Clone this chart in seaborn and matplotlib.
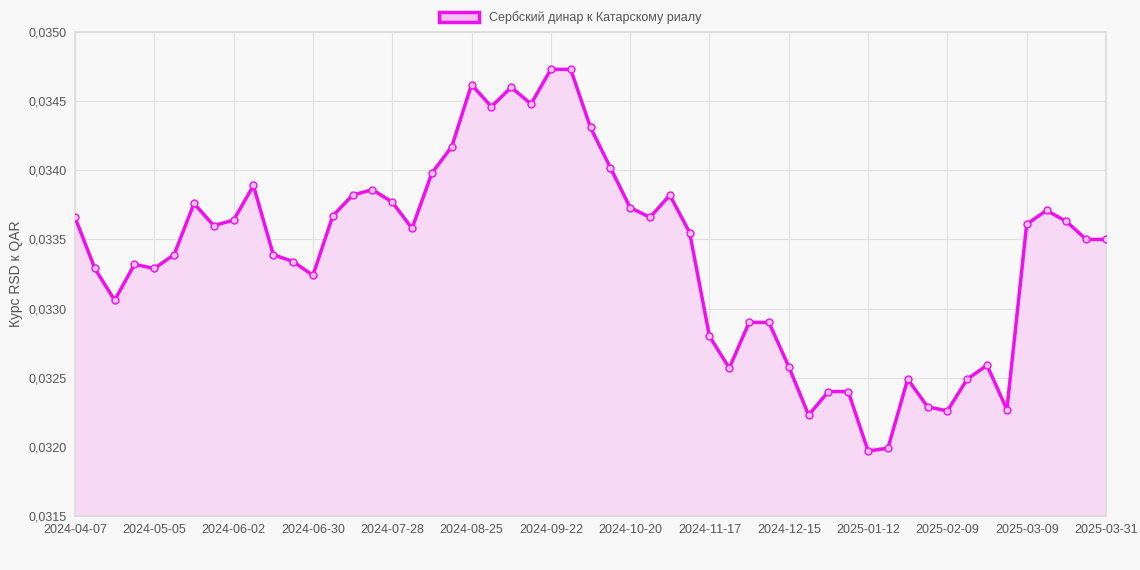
import matplotlib
matplotlib.use("Agg")
import matplotlib.pyplot as plt
import seaborn as sns
import pandas as pd
import numpy as np

values = [0.03366,0.03329,0.03306,0.03332,0.03329,0.03339,0.03376,0.03360,0.03364,0.03389,
          0.03339,0.03334,0.03324,0.03367,0.03382,0.03386,0.03377,0.03358,0.03398,0.03417,
          0.03462,0.03446,0.03460,0.03448,0.03473,0.03473,0.03431,0.03402,0.03373,0.03366,
          0.03382,0.03355,0.03280,0.03257,0.03290,0.03290,0.03258,0.03223,0.03240,0.03240,
          0.03197,0.03199,0.03249,0.03229,0.03226,0.03249,0.03259,0.03227,0.03361,0.03371,
          0.03363,0.03350,0.03350]
tick_labels = ["2024-04-07","2024-05-05","2024-06-02","2024-06-30","2024-07-28","2024-08-25",
               "2024-09-22","2024-10-20","2024-11-17","2024-12-15","2025-01-12","2025-02-09",
               "2025-03-09","2025-03-31"]
tick_idx = [0,4,8,12,16,20,24,28,32,36,40,44,48,52]
series_name = "Сербский динар к Катарскому риалу"

sns.set_theme(style="whitegrid")
plt.rcParams['font.family'] = ['Liberation Sans', 'DejaVu Sans']
df = pd.DataFrame({"i": np.arange(len(values)), "v": values})

fig = plt.figure(figsize=(11.4, 5.7), dpi=100, facecolor="#f8f8f8")
ax = fig.add_axes([75/1140, 1-516/570, (1106-75)/1140, (516-32)/570])
ax.set_facecolor("#f8f8f8")
ymin = 0.0315
ax.fill_between(df["i"], df["v"], ymin, color="#f7d9f5", zorder=1)
sns.lineplot(data=df, x="i", y="v", ax=ax, color="#ee11ee", linewidth=2.5, marker="o",
             markersize=5, markerfacecolor="#f7c0f3", markeredgecolor="#ee11ee",
             markeredgewidth=1, zorder=3)
ax.set_xlim(0, len(values)-1)
ax.set_ylim(ymin, 0.0350)
ax.set_yticks(np.arange(0.0315, 0.03501, 0.0005))
ax.set_yticklabels([f"{t:.4f}".replace(".", ",") for t in np.arange(0.0315, 0.03501, 0.0005)])
ax.set_xticks(tick_idx)
ax.set_xticklabels(tick_labels)
ax.set_xticks(np.arange(len(values)), minor=False) if False else None
ax.tick_params(labelsize=9, colors="#555555", length=0, pad=6)
ax.grid(True, color="#e0e0e0", linewidth=0.8)
for s in ax.spines.values():
    s.set_color("#dddddd")
ax.set_xlabel("")
ax.set_ylabel("Курс RSD к QAR", fontsize=10, color="#555555")
from matplotlib.patches import Patch
leg = fig.legend(handles=[Patch(facecolor="#f7c0f3", edgecolor="#ee11ee", linewidth=2.5, label=series_name)],
                 loc="upper center", bbox_to_anchor=(0.5, 1.0), frameon=False, fontsize=9,
                 handlelength=3.2, handleheight=0.8)
for t in leg.get_texts():
    t.set_color("#555555")
fig.savefig("out.png", dpi=100, facecolor=fig.get_facecolor())
